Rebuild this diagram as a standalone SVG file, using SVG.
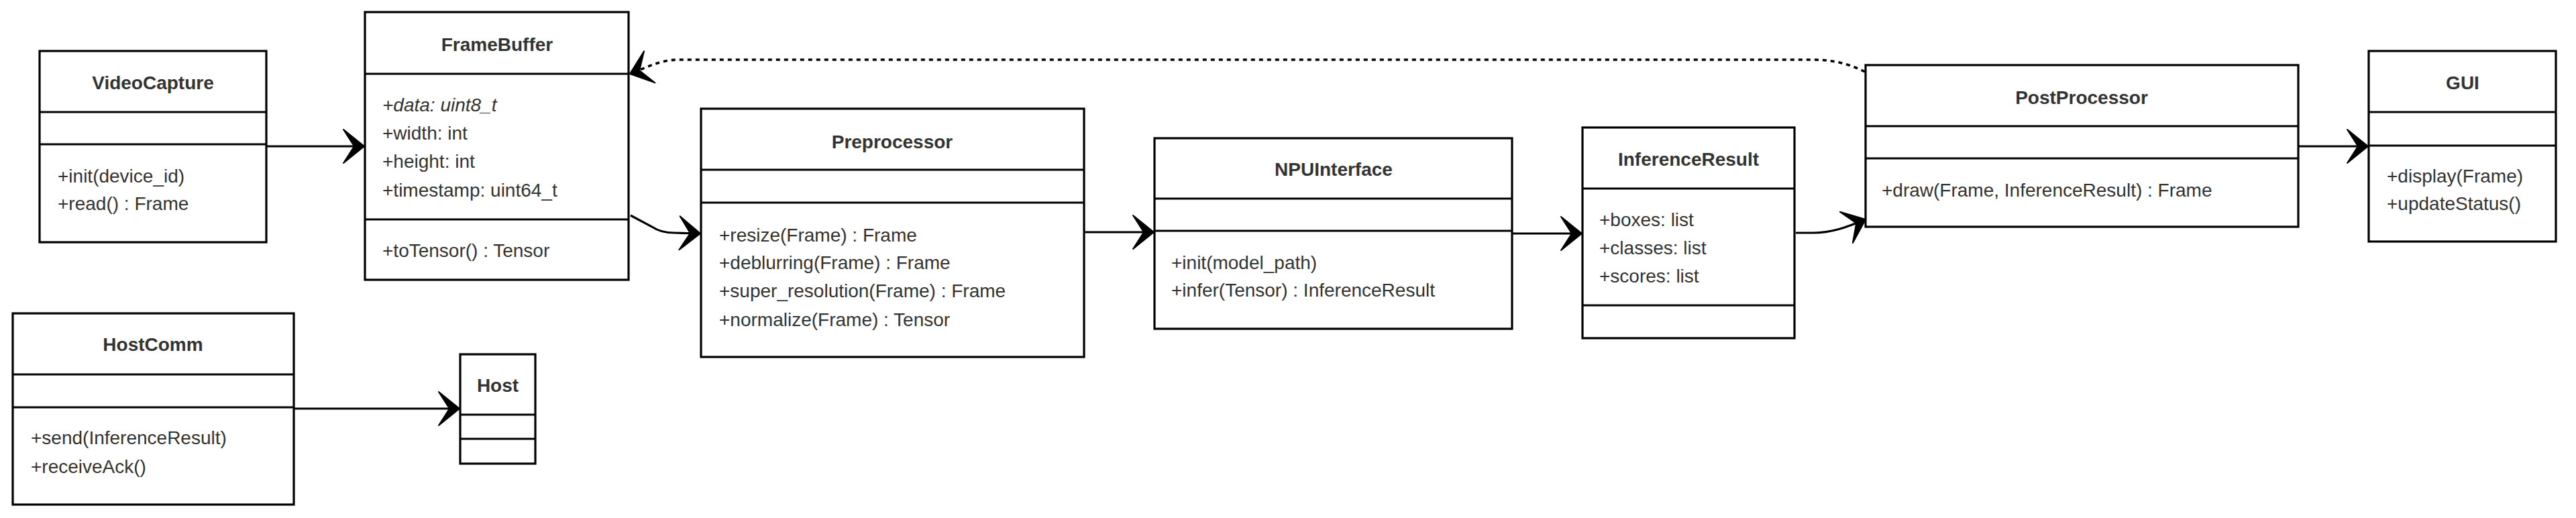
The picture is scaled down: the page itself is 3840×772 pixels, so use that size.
<svg xmlns="http://www.w3.org/2000/svg" width="3840" height="772" viewBox="0 0 3840 772">
<defs>
<style>
.box{fill:#ffffff;stroke:#000000;stroke-width:3.2}
.div{stroke:#000000;stroke-width:3.2;fill:none}
.t{font-family:"Liberation Sans",Arial,sans-serif;font-size:28px;fill:#333333}
.h{font-family:"Liberation Sans",Arial,sans-serif;font-size:28px;font-weight:bold;fill:#333333;text-anchor:middle}
.i{font-style:italic}
.c{fill:none;stroke:#000000;stroke-width:3.2}
.d{fill:none;stroke:#000000;stroke-width:3.6;stroke-dasharray:6 6}
</style>
<marker id="arr" markerUnits="userSpaceOnUse" viewBox="-34 -28 38 56" refX="0" refY="0" markerWidth="38" markerHeight="56" orient="auto" overflow="visible">
<path d="M0,0 L-31,-25 L-15,0 L-31,25 Z" fill="#000000" stroke="#000000" stroke-width="2" stroke-linejoin="round"/>
</marker>
</defs>
<rect width="3840" height="772" fill="#ffffff"/>

<g id="connectors">
<path class="c" d="M397,218 L543,218" marker-end="url(#arr)"/>
<path class="c" d="M940,321 L972,338 Q985,347 1005,347 L1044,348" marker-end="url(#arr)"/>
<path class="c" d="M1617,346 L1720,346" marker-end="url(#arr)"/>
<path class="c" d="M2254,348 L2358,348" marker-end="url(#arr)"/>
<path class="c" d="M2677,347 L2703,347 C2730,347 2752,339 2781,327" marker-end="url(#arr)"/>
<path class="c" d="M3427,218 L3530,218" marker-end="url(#arr)"/>
<path class="c" d="M438,609 L685,609" marker-end="url(#arr)"/>
<path class="d" d="M2780,107 C2752,93 2728,89 2700,89 L1012,89 C982,89 962,102 939,110" marker-end="url(#arr)"/>
</g>

<g id="VideoCapture">
<rect class="box" x="59" y="76" width="338" height="285"/>
<path class="div" d="M59,167 H397 M59,215 H397"/>
<text class="h" x="228" y="133">VideoCapture</text>
<text class="t" x="86" y="272">+init(device_id)</text>
<text class="t" x="86" y="313">+read() : Frame</text>
</g>

<g id="FrameBuffer">
<rect class="box" x="544" y="18" width="393" height="399"/>
<path class="div" d="M544,110 H937 M544,327 H937"/>
<text class="h" x="741" y="76">FrameBuffer</text>
<text class="t i" x="570" y="166">+data: uint8_t</text>
<text class="t" x="570" y="208">+width: int</text>
<text class="t" x="570" y="250">+height: int</text>
<text class="t" x="570" y="293">+timestamp: uint64_t</text>
<text class="t" x="570" y="383">+toTensor() : Tensor</text>
</g>

<g id="Preprocessor">
<rect class="box" x="1045" y="162" width="571" height="370"/>
<path class="div" d="M1045,253 H1616 M1045,302 H1616"/>
<text class="h" x="1330" y="221">Preprocessor</text>
<text class="t" x="1072" y="360">+resize(Frame) : Frame</text>
<text class="t" x="1072" y="401">+deblurring(Frame) : Frame</text>
<text class="t" x="1072" y="443">+super_resolution(Frame) : Frame</text>
<text class="t" x="1072" y="486">+normalize(Frame) : Tensor</text>
</g>

<g id="NPUInterface">
<rect class="box" x="1721" y="206" width="533" height="284"/>
<path class="div" d="M1721,296 H2254 M1721,344 H2254"/>
<text class="h" x="1988" y="262">NPUInterface</text>
<text class="t" x="1746" y="401">+init(model_path)</text>
<text class="t" x="1746" y="442">+infer(Tensor) : InferenceResult</text>
</g>

<g id="InferenceResult">
<rect class="box" x="2359" y="190" width="316" height="314"/>
<path class="div" d="M2359,281 H2675 M2359,455 H2675"/>
<text class="h" x="2517" y="247">InferenceResult</text>
<text class="t" x="2384" y="337">+boxes: list</text>
<text class="t" x="2384" y="379">+classes: list</text>
<text class="t" x="2384" y="421">+scores: list</text>
</g>

<g id="PostProcessor">
<rect class="box" x="2781" y="97" width="645" height="241"/>
<path class="div" d="M2781,188 H3426 M2781,236 H3426"/>
<text class="h" x="3103" y="155">PostProcessor</text>
<text class="t" x="2805" y="293">+draw(Frame, InferenceResult) : Frame</text>
</g>

<g id="GUI">
<rect class="box" x="3531" y="76" width="279" height="284"/>
<path class="div" d="M3531,167 H3810 M3531,217 H3810"/>
<text class="h" x="3671" y="133">GUI</text>
<text class="t" x="3558" y="272">+display(Frame)</text>
<text class="t" x="3558" y="313">+updateStatus()</text>
</g>

<g id="HostComm">
<rect class="box" x="19" y="467" width="419" height="285"/>
<path class="div" d="M19,558 H438 M19,607 H438"/>
<text class="h" x="228" y="523">HostComm</text>
<text class="t" x="46" y="662">+send(InferenceResult)</text>
<text class="t" x="46" y="705">+receiveAck()</text>
</g>

<g id="Host">
<rect class="box" x="686" y="528" width="112" height="163"/>
<path class="div" d="M686,618 H798 M686,654 H798"/>
<text class="h" x="742" y="584">Host</text>
</g>
</svg>
